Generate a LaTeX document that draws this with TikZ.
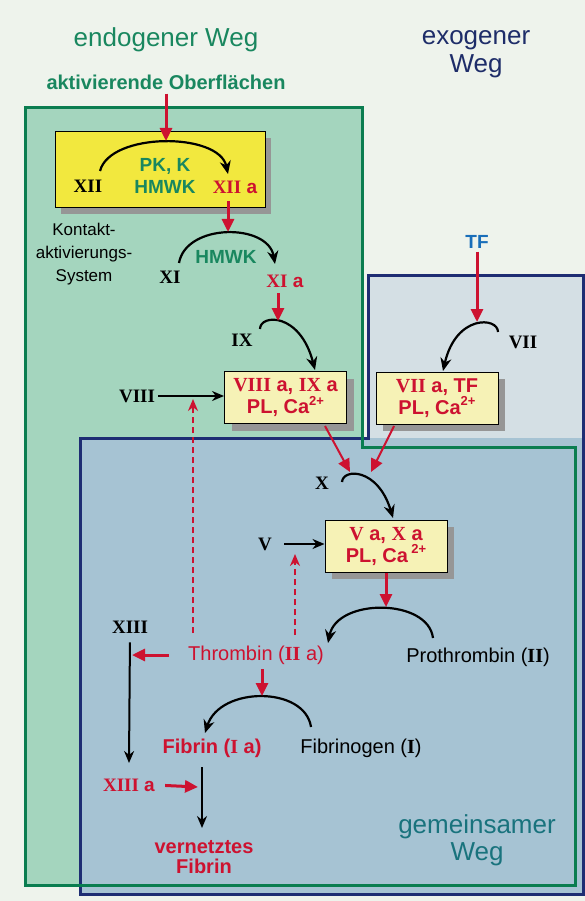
\documentclass[tikz,border=0pt]{standalone}
\usepackage{fontspec}
\setmainfont{Liberation Sans}
\newfontfamily\tnr{Liberation Serif}
\usetikzlibrary{arrows.meta,shadows}
\definecolor{bgc}{RGB}{238,243,236}
\definecolor{greenfill}{RGB}{164,213,190}
\definecolor{exofill}{RGB}{212,223,228}
\definecolor{comfill}{RGB}{166,195,211}
\definecolor{greenline}{RGB}{10,125,80}
\definecolor{blueline}{RGB}{30,45,115}
\definecolor{greent}{RGB}{25,135,95}
\definecolor{navyt}{RGB}{30,45,105}
\definecolor{tealt}{RGB}{25,115,125}
\definecolor{bluet}{RGB}{25,110,185}
\definecolor{redc}{RGB}{205,18,48}
\definecolor{yelc}{RGB}{242,232,62}
\definecolor{paley}{RGB}{246,242,182}
\definecolor{shadowc}{RGB}{150,150,150}
\newcommand{\RN}[1]{{\tnr\bfseries #1}}
\newcommand{\supc}[1]{\raisebox{0.42em}{\fontsize{13}{13}\selectfont #1}}
\begin{document}
\begin{tikzpicture}[x=1pt,y=-1pt,
  txt/.style={inner sep=0pt, align=center},
  hd/.style={txt, font=\fontsize{26}{28}\selectfont},
  lb/.style={txt, font=\fontsize{19}{22}\selectfont},
  bx/.style={draw=black, line width=1pt, fill=paley, minimum width=122pt, minimum height=52pt, inner sep=0pt, align=center, text=redc, font=\fontsize{20}{22}\selectfont\bfseries, general shadow={fill=shadowc, shadow xshift=7pt, shadow yshift=-7pt}},
  redarr/.style={draw=redc, line width=3pt, -{Triangle[length=13pt,width=12pt]}},
  dasharr/.style={draw=redc, line width=2.4pt, dash pattern=on 6pt off 4pt, -{Stealth[length=12pt,width=10pt]}},
  blkarr/.style={draw=black, line width=2pt, -{Stealth[length=12pt,width=10pt]}},
  arcarr/.style={draw=black, line width=2.2pt, -{Stealth[length=13pt,width=11pt]}},
]
\useasboundingbox (0,0) rectangle (585,901);
\fill[bgc] (0,0) rectangle (585,901);
% regions
\fill[greenfill] (25,108) -- (362,108) -- (362,447) -- (575,447) -- (575,885) -- (25,885) -- cycle;
\fill[exofill] (368,275) rectangle (583,447);
\fill[comfill] (80,438) rectangle (583,894);
\draw[blueline, line width=3pt] (80,438) -- (368,438) -- (368,275) -- (583,275) -- (583,894) -- (80,894) -- cycle;
\draw[greenline, line width=3pt] (25,108) -- (362,108) -- (362,447) -- (575,447) -- (575,885) -- (25,885) -- cycle;

% headers
\node[hd, text=greent] (endo) at (166,40) {endogener Weg};
\node[txt, text=greent, font=\fontsize{20}{24}\selectfont\bfseries] (aktiv) at (166,82) {aktivierende Oberflächen};
\node[hd, text=navyt] (exo) at (476,54) {exogener\\Weg};
\node[hd, text=tealt, font=\fontsize{26}{27}\selectfont] (gem) at (477,840) {gemeinsamer\\Weg};

% contact activation
\node[draw=black, line width=1pt, fill=yelc, minimum width=210pt, minimum height=76pt, general shadow={fill=shadowc, shadow xshift=6pt, shadow yshift=-6pt}] (boxxii) at (160,170) {};
\node[lb] (xii) at (88,186) {\RN{XII}};
\node[lb, text=greent, font=\fontsize{19}{22}\selectfont\bfseries] (pk) at (165,176) {PK, K\\HMWK};
\node[lb, text=redc] (xiia) at (235,187) {\RN{XII} \textbf{a}};
\node[txt, font=\fontsize{17}{23}\selectfont] (kontakt) at (84,254) {Kontakt-\\aktivierungs-\\System};
\node[lb] (xi) at (170,277) {\RN{XI}};
\node[lb, text=greent, font=\fontsize{19}{22}\selectfont\bfseries] (hmwk) at (226,257) {HMWK};
\node[lb, text=redc] (xia) at (285,281) {\RN{XI} \textbf{a}};
\node[lb] (ix) at (242,340) {\RN{IX}};
\node[lb] (viii) at (137,396) {\RN{VIII}};
\node[bx] (b8) at (285.5,397.5) {\RN{VIII} a, \RN{IX} a\\PL, Ca\supc{2+}};

% extrinsic
\node[lb, text=bluet, font=\fontsize{19}{22}\selectfont\bfseries] (tf) at (477,242) {TF};
\node[lb] (vii) at (523,342) {\RN{VII}};
\node[bx] (b7) at (437,398) {\RN{VII} a, TF\\PL, Ca\supc{2+}};

% common
\node[lb] (x) at (322,483) {\RN{X}};
\node[lb] (v) at (265,544) {\RN{V}};
\node[bx] (b5) at (386,546) {\RN{V} a, \RN{X} a\\PL, Ca\,\supc{2+}};
\node[lb] (xiii) at (130,627) {\RN{XIII}};
\node[lb, text=redc, font=\fontsize{20}{24}\selectfont] (thr) at (256,655) {Thrombin (\RN{II} a)};
\node[lb, font=\fontsize{20}{24}\selectfont] (pro) at (478,657) {Prothrombin (\RN{II})};
\node[lb, text=redc, font=\fontsize{20}{24}\selectfont\bfseries] (fib) at (212,748) {Fibrin (\RN{I} a)};
\node[lb, font=\fontsize{20}{24}\selectfont] (fibg) at (361,748) {Fibrinogen (\RN{I})};
\node[lb, text=redc] (xiiia) at (129,785) {\RN{XIII} \textbf{a}};
\node[txt, text=redc, font=\fontsize{20}{20}\selectfont\bfseries] (vern) at (204,857) {vernetztes\\Fibrin};

% coordinates
\coordinate (s12) at (100,171); \coordinate (e12) at (228,174); \coordinate (t12) at (166,141);
\coordinate (s11) at (179,263); \coordinate (e11) at (275,264); \coordinate (t11) at (228,232);
\coordinate (r2s) at (228,201);
\coordinate (s9) at (260,329); \coordinate (e9) at (315,370); \coordinate (t9) at (278,321);
\coordinate (r3s) at (278,293);
\coordinate (s7) at (498,332); \coordinate (e7) at (443,371); \coordinate (t7) at (477,322);
\coordinate (sx) at (342,482); \coordinate (ex) at (393,518);
\coordinate (tx1) at (350,472); \coordinate (tx2) at (371,472);
\coordinate (r5s) at (325,426); \coordinate (r6s) at (394,426);
\coordinate (sp) at (433,638); \coordinate (ep) at (328,643); \coordinate (tp) at (386,607);
\coordinate (sf) at (311,727); \coordinate (ef) at (205,733); \coordinate (tf2) at (262,696);
\coordinate (r9s) at (262,669);
\coordinate (r8s) at (169,655); \coordinate (r8e) at (132,655);
\coordinate (xiiie) at (129,763);
\coordinate (fibs) at (202,767); \coordinate (fibe) at (202,828);
\coordinate (r10e) at (198,787);
\coordinate (d1s) at (193,633); \coordinate (d1e) at (193,399);
\coordinate (d2s) at (295,635); \coordinate (d2e) at (295,554);

% arcs
\draw[arcarr] (s12) .. controls (110,132) and (219,132) .. (e12);
\draw[arcarr] (s11) .. controls (186,223) and (268,223) .. (e11);
\draw[arcarr] (s9) .. controls (260,314) and (300,312) .. (e9);
\draw[arcarr] (s7) .. controls (498,317) and (456,314) .. (e7);
\draw[arcarr] (sx) .. controls (343,468) and (378,468) .. (ex);
\draw[arcarr] (sp) .. controls (428,598) and (337,598) .. (ep);
\draw[arcarr] (sf) .. controls (305,686) and (220,686) .. (ef);

% red arrows
\draw[redarr, shorten <=4pt] (aktiv.south) -- (t12);
\draw[redarr] (r2s) -- (t11);
\draw[redarr] (r3s) -- (t9);
\draw[redarr, shorten <=3pt] (tf.south) -- (t7);
\draw[redarr, line width=2pt] (r5s) -- (tx1);
\draw[redarr, line width=2pt] (r6s) -- (tx2);
\draw[redarr] (b5.south) -- (tp);
\draw[redarr] (r9s) -- (tf2);
\draw[redarr] (r8s) -- (r8e);
\draw[redarr, shorten <=10pt] (xiiia.east) -- (r10e);

% black straight arrows
\draw[blkarr, shorten <=3pt] (viii.east) -- (viii.east -| b8.west);
\draw[blkarr, shorten <=12pt] (v.east) -- (v.east -| b5.west);
\draw[blkarr, shorten <=9pt] (xiii.south) -- (xiiie);
\draw[blkarr] (fibs) -- (fibe);

% dashed feedback
\draw[dasharr] (d1s) -- (d1e);
\draw[dasharr] (d2s) -- (d2e);
\end{tikzpicture}
\end{document}
